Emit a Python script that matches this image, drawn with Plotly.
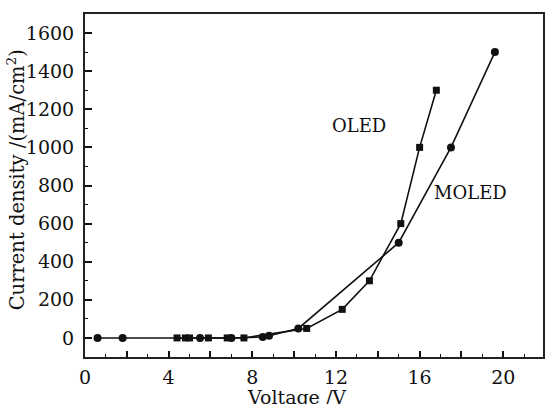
import plotly.graph_objects as go

# OLED device (squares)
oled_v = [4.4, 4.8, 5.0, 5.9, 6.8, 7.6, 10.6, 12.3, 13.6, 15.1, 16.0, 16.8]
oled_j = [0, 0, 0, 0, 0, 0, 50, 150, 300, 600, 1000, 1300]

# MOLED device (circles)
moled_v = [0.6, 1.8, 5.5, 7.0, 8.5, 8.8, 10.2, 15.0, 17.5, 19.6]
moled_j = [0, 0, 0, 0, 5, 12, 50, 500, 1000, 1500]

x_major = [0, 2, 4, 6, 8, 10, 12, 14, 16, 18, 20]
x_labels = ["0", "", "4", "", "8", "", "12", "", "16", "", "20"]
y_major = [0, 200, 400, 600, 800, 1000, 1200, 1400, 1600]

FONT = "DejaVu Serif"
INK = "#111111"
TICK_SIZE = 19

# plot area in pixels (for placing the axis titles)
L, R, T, B = 85, 545, 14, 357
PW, PH = R - L, B - T

fig = go.Figure()
fig.add_trace(go.Scatter(
    x=moled_v, y=moled_j, mode="lines+markers", name="MOLED",
    line=dict(color=INK, width=1.6),
    marker=dict(symbol="circle", size=8, color=INK),
))
fig.add_trace(go.Scatter(
    x=oled_v, y=oled_j, mode="lines+markers", name="OLED",
    line=dict(color=INK, width=1.6),
    marker=dict(symbol="square", size=7, color=INK),
))

fig.add_annotation(x=13.1, y=1117, text="OLED", showarrow=False,
                   font=dict(family=FONT, size=18, color=INK))
fig.add_annotation(x=18.45, y=761, text="MOLED", showarrow=False,
                   font=dict(family=FONT, size=18, color=INK))
# x-axis title, slightly left of the plot centre
fig.add_annotation(xref="x domain", yref="y domain",
                   x=(297 - L) / PW, y=-(384 - B) / PH,
                   xanchor="center", yanchor="top",
                   text="Voltage /V", showarrow=False,
                   font=dict(family=FONT, size=TICK_SIZE, color=INK))
# y-axis title
fig.add_annotation(xref="x domain", yref="y domain",
                   x=(16 - L) / PW, y=(B - 180) / PH,
                   xanchor="center", yanchor="middle", textangle=-90,
                   text="Current density /(mA/cm<sup>2</sup>)", showarrow=False,
                   font=dict(family=FONT, size=19.5, color=INK))

fig.update_layout(
    width=547, height=404,
    margin=dict(l=L, r=547 - R, t=T, b=404 - B),
    paper_bgcolor="white", plot_bgcolor="white",
    showlegend=False,
    font=dict(family=FONT, size=TICK_SIZE, color=INK),
    xaxis=dict(
        range=[0, 21.9], tickmode="array", tickvals=x_major, ticktext=x_labels,
        ticks="inside", ticklen=6, tickwidth=1.5, tickcolor=INK,
        minor=dict(dtick=1, ticks="inside", ticklen=3, tickwidth=1.2, tickcolor=INK),
        showline=True, linewidth=2, linecolor="#222222", mirror=True,
        showgrid=False, zeroline=False, ticklabelstandoff=2,
        tickfont=dict(family=FONT, size=TICK_SIZE, color=INK),
    ),
    yaxis=dict(
        range=[-100, 1700], tickmode="array", tickvals=y_major,
        ticks="inside", ticklen=7, tickwidth=1.5, tickcolor=INK,
        minor=dict(dtick=100, tick0=0, ticks="inside", ticklen=3, tickwidth=1.2, tickcolor=INK),
        showline=True, linewidth=2, linecolor="#222222", mirror=True,
        showgrid=False, zeroline=False, ticklabelstandoff=5,
        tickfont=dict(family=FONT, size=TICK_SIZE, color=INK),
    ),
)

fig.write_html("out.html")
